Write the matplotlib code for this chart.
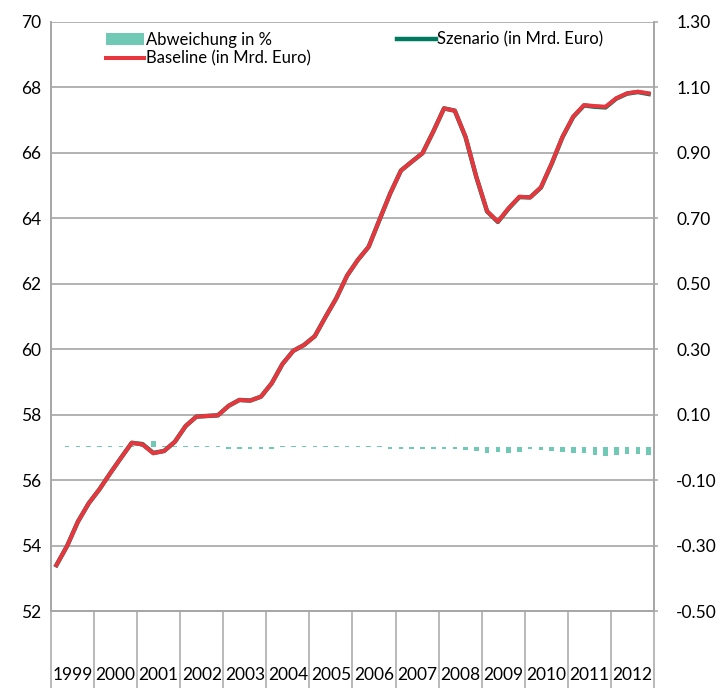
import numpy as np
import matplotlib.pyplot as plt
from matplotlib.ticker import FormatStrFormatter

plt.rcParams['font.family'] = ['Lato', 'DejaVu Sans']

years = ['1999', '2000', '2001', '2002', '2003', '2004', '2005',
         '2006', '2007', '2008', '2009', '2010', '2011', '2012']

# Quartalswerte 1999Q1 - 2012Q4
baseline = [53.40, 53.99, 54.73, 55.29, 55.72, 56.21, 56.68, 57.14,
            57.09, 56.82, 56.89, 57.17, 57.65, 57.94, 57.96, 57.98,
            58.27, 58.45, 58.43, 58.55, 58.96, 59.55, 59.95, 60.13,
            60.40, 60.99, 61.56, 62.25, 62.73, 63.13, 63.95, 64.76,
            65.46, 65.73, 65.99, 66.65, 67.36, 67.29, 66.49, 65.27,
            64.22, 63.90, 64.31, 64.66, 64.64, 64.95, 65.68, 66.49,
            67.11, 67.46, 67.43, 67.41, 67.67, 67.82, 67.87, 67.82]
szenario = [53.40, 53.99, 54.73, 55.29, 55.72, 56.21, 56.68, 57.14,
            57.10, 56.83, 56.89, 57.17, 57.65, 57.94, 57.96, 57.98,
            58.27, 58.45, 58.43, 58.55, 58.96, 59.55, 59.95, 60.13,
            60.40, 60.99, 61.56, 62.25, 62.73, 63.13, 63.95, 64.76,
            65.46, 65.73, 65.99, 66.65, 67.36, 67.29, 66.48, 65.26,
            64.21, 63.89, 64.30, 64.65, 64.64, 64.94, 65.67, 66.48,
            67.10, 67.45, 67.41, 67.39, 67.66, 67.81, 67.86, 67.80]
abweichung = [0.000, 0.005, 0.005, 0.005, 0.005, 0.005, 0.005, 0.005,
              0.005, 0.018, 0.005, 0.005, 0.005, 0.005, 0.005, 0.005,
              -0.006, -0.006, -0.006, -0.006, -0.006, 0.004, 0.004, 0.004,
              0.004, 0.004, 0.004, 0.005, 0.005, 0.005, 0.005, -0.004,
              -0.004, -0.005, -0.005, -0.005, -0.005, -0.005, -0.009, -0.010,
              -0.016, -0.013, -0.016, -0.013, -0.006, -0.008, -0.010, -0.013,
              -0.016, -0.016, -0.024, -0.027, -0.022, -0.020, -0.020, -0.022]

x = np.arange(len(baseline))
grey = '#A6A6A6'

fig = plt.figure(figsize=(7.18, 6.88), dpi=100)
ax = fig.add_axes([51/718, 1-611/688, (654-51)/718, (611-22)/688])
ax2 = ax.twinx()

bars = ax2.bar(x, abweichung, width=0.42, color='#70C9B5', label='Abweichung in %')
l_sz, = ax.plot(x, szenario, color='#007A5E', lw=3.2, label='Szenario (in Mrd. Euro)')
l_bl, = ax.plot(x, baseline, color='#E8363E', lw=2.9, label='Baseline (in Mrd. Euro)')

ax.set_zorder(ax2.get_zorder() + 1)
ax.patch.set_visible(False)

ax.set_xlim(-0.5, len(x) - 0.5)
ax.set_ylim(52, 70)
ax.set_yticks(np.arange(52, 71, 2))
ax2.set_ylim(-0.5, 1.3)
ax2.set_yticks(np.arange(-0.5, 1.31, 0.2))
ax2.yaxis.set_major_formatter(FormatStrFormatter('%.2f'))

ax.yaxis.grid(True, color=grey, lw=1.2)
ax.set_axisbelow(True)

# Kategorieachse mit Trennlinien zwischen den Jahren
bounds = np.arange(-0.5, len(x), 4)
centers = np.arange(1.5, len(x), 4)
ax.set_xticks(bounds)
ax.set_xticklabels([])
ax.set_xticks(centers, minor=True)
ax.set_xticklabels(years, minor=True)
ax.tick_params(axis='x', which='major', length=56, width=1.1, color=grey, direction='out')
ax.tick_params(axis='x', which='minor', length=0, pad=40, labelsize=12.5)
ax.tick_params(axis='y', length=0, pad=7, labelsize=12.5)
ax2.tick_params(axis='y', length=3, width=1.1, color=grey, pad=13, labelsize=12.5)

for a in (ax, ax2):
    a.spines['top'].set_visible(False)
    for s in ('left', 'right', 'bottom'):
        a.spines[s].set_color(grey)
        a.spines[s].set_linewidth(1.2)

ax.legend([bars, l_bl, l_sz],
          ['Abweichung in %', 'Baseline (in Mrd. Euro)', 'Szenario (in Mrd. Euro)'],
          ncol=2, loc='upper left', bbox_to_anchor=(0.08, 0.995), frameon=False,
          fontsize=12, handlelength=2.3, handletextpad=0.1, columnspacing=5.2,
          labelspacing=0.15, borderaxespad=0)

fig.savefig('out.png', dpi=100)
